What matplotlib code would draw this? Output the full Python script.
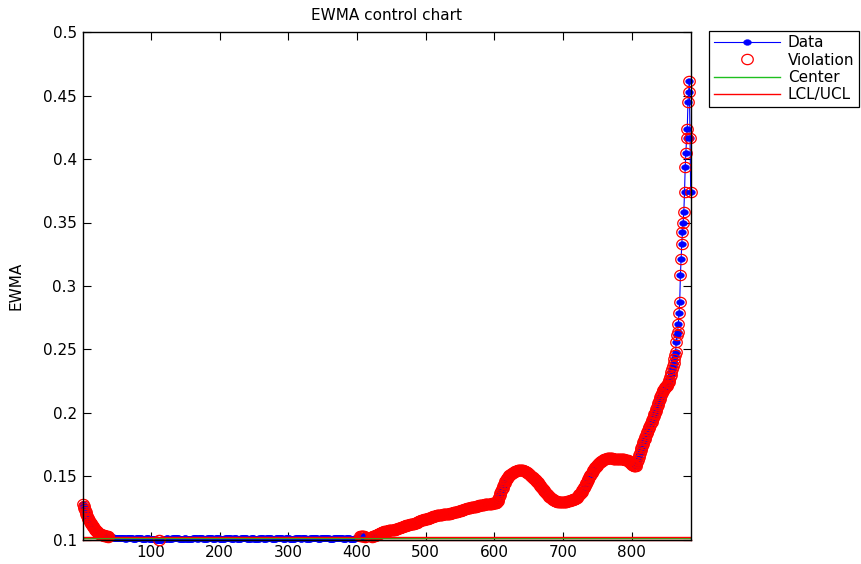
import numpy as np
import matplotlib
matplotlib.use("Agg")
import matplotlib.pyplot as plt
from matplotlib.ticker import FuncFormatter
from matplotlib.lines import Line2D
from matplotlib.path import Path

plt.rcParams['font.family'] = ['DejaVu Sans']

# ---------------- data ----------------
ewma_start = [
    0.1280, 0.1262, 0.1245, 0.1230, 0.1214, 0.1200, 0.1186, 0.1173, 0.1161, 0.1150,
    0.1139, 0.1129, 0.1120, 0.1111, 0.1103, 0.1095, 0.1088, 0.1081, 0.1075, 0.1069,
    0.1064, 0.1059, 0.1055, 0.1051, 0.1047, 0.1044, 0.1041, 0.1038, 0.1036, 0.1034,
    0.1032, 0.1030, 0.1029, 0.1027, 0.1026, 0.1025, 0.1024, 0.1023, 0.1022, 0.1020,
]
ewma_flat = [
    0.1019, 0.1018, 0.1017, 0.1016, 0.1015, 0.1014, 0.1013, 0.1012, 0.1011, 0.1010,
    0.1009, 0.1009, 0.1008, 0.1008, 0.1009, 0.1010, 0.1011, 0.1011, 0.1010, 0.1009,
    0.1008, 0.1007, 0.1007, 0.1008, 0.1009, 0.1010, 0.1012, 0.1013, 0.1012, 0.1011,
    0.1010, 0.1009, 0.1008, 0.1007, 0.1006, 0.1006, 0.1007, 0.1008, 0.1009, 0.1010,
    0.1011, 0.1012, 0.1011, 0.1010, 0.1009, 0.1008, 0.1007, 0.1006, 0.1005, 0.1005,
    0.1006, 0.1007, 0.1008, 0.1009, 0.1009, 0.1008, 0.1007, 0.1006, 0.1005, 0.1004,
    0.1004, 0.1003, 0.1003, 0.1002, 0.1002, 0.1001, 0.1001, 0.1000, 0.1000, 0.0999,
    0.0998, 0.0996, 0.0998, 0.0999, 0.1000, 0.1001, 0.1002, 0.1003, 0.1004, 0.1005,
    0.1006, 0.1007, 0.1008, 0.1008, 0.1007, 0.1006, 0.1005, 0.1005, 0.1006, 0.1007,
    0.1008, 0.1009, 0.1010, 0.1011, 0.1012, 0.1012, 0.1011, 0.1010, 0.1009, 0.1008,
    0.1007, 0.1006, 0.1005, 0.1004, 0.1004, 0.1005, 0.1006, 0.1007, 0.1008, 0.1008,
    0.1007, 0.1006, 0.1005, 0.1004, 0.1003, 0.1003, 0.1004, 0.1005, 0.1006, 0.1007,
    0.1008, 0.1009, 0.1010, 0.1010, 0.1009, 0.1008, 0.1007, 0.1007, 0.1008, 0.1009,
    0.1010, 0.1011, 0.1010, 0.1009, 0.1008, 0.1007, 0.1006, 0.1005, 0.1005, 0.1006,
    0.1007, 0.1008, 0.1009, 0.1010, 0.1011, 0.1011, 0.1010, 0.1009, 0.1008, 0.1007,
    0.1006, 0.1006, 0.1007, 0.1008, 0.1009, 0.1010, 0.1010, 0.1009, 0.1008, 0.1007,
    0.1006, 0.1005, 0.1004, 0.1004, 0.1005, 0.1006, 0.1007, 0.1008, 0.1009, 0.1010,
    0.1011, 0.1012, 0.1011, 0.1010, 0.1009, 0.1008, 0.1007, 0.1006, 0.1006, 0.1007,
    0.1008, 0.1009, 0.1009, 0.1008, 0.1007, 0.1006, 0.1005, 0.1005, 0.1006, 0.1007,
    0.1008, 0.1009, 0.1010, 0.1011, 0.1012, 0.1011, 0.1010, 0.1009, 0.1008, 0.1007,
    0.1006, 0.1005, 0.1005, 0.1006, 0.1007, 0.1008, 0.1009, 0.1009, 0.1008, 0.1007,
    0.1006, 0.1005, 0.1004, 0.1004, 0.1005, 0.1006, 0.1007, 0.1008, 0.1009, 0.1010,
    0.1010, 0.1009, 0.1008, 0.1007, 0.1006, 0.1006, 0.1007, 0.1008, 0.1009, 0.1010,
    0.1011, 0.1011, 0.1010, 0.1009, 0.1008, 0.1007, 0.1006, 0.1005, 0.1005, 0.1006,
    0.1007, 0.1008, 0.1009, 0.1010, 0.1011, 0.1012, 0.1012, 0.1011, 0.1010, 0.1009,
    0.1008, 0.1007, 0.1006, 0.1006, 0.1007, 0.1008, 0.1009, 0.1010, 0.1010, 0.1009,
    0.1008, 0.1007, 0.1006, 0.1005, 0.1004, 0.1004, 0.1005, 0.1006, 0.1007, 0.1008,
    0.1009, 0.1010, 0.1011, 0.1011, 0.1010, 0.1009, 0.1008, 0.1007, 0.1007, 0.1008,
    0.1009, 0.1010, 0.1010, 0.1009, 0.1008, 0.1007, 0.1006, 0.1005, 0.1005, 0.1006,
    0.1007, 0.1008, 0.1009, 0.1010, 0.1011, 0.1012, 0.1013, 0.1012, 0.1011, 0.1010,
    0.1009, 0.1008, 0.1007, 0.1006, 0.1006, 0.1007, 0.1008, 0.1009, 0.1010, 0.1011,
    0.1012, 0.1013, 0.1014, 0.1013, 0.1012, 0.1011, 0.1010, 0.1009, 0.1008, 0.1007,
    0.1006, 0.1005, 0.1005, 0.1006, 0.1007, 0.1008, 0.1009, 0.1010, 0.1011, 0.1012,
    0.1013, 0.1014, 0.1014, 0.1013, 0.1012, 0.1011, 0.1010, 0.1009, 0.1008, 0.1007,
    0.1006, 0.1006, 0.1007, 0.1008, 0.1009, 0.1010, 0.1010, 0.1009, 0.1008, 0.1007,
    0.1006, 0.1005, 0.1004, 0.1004, 0.1005, 0.1006, 0.1008, 0.1010, 0.1012, 0.1014,
    0.1016, 0.1018, 0.1020, 0.1022, 0.1024, 0.1025, 0.1026, 0.1026, 0.1025, 0.1024,
    0.1023, 0.1022, 0.1021, 0.1020, 0.1019, 0.1018, 0.1018, 0.1019, 0.1020, 0.1021,
    0.1022, 0.1023, 0.1024, 0.1026, 0.1028, 0.1030, 0.1032, 0.1035, 0.1038, 0.1041,
]
ewma_rise = [
    0.1044, 0.1047, 0.1050, 0.1053, 0.1055, 0.1057, 0.1059, 0.1061, 0.1063, 0.1065,
    0.1066, 0.1067, 0.1068, 0.1069, 0.1070, 0.1071, 0.1072, 0.1073, 0.1073, 0.1074,
    0.1074, 0.1075, 0.1076, 0.1077, 0.1078, 0.1080, 0.1082, 0.1084, 0.1086, 0.1088,
    0.1090, 0.1092, 0.1094, 0.1096, 0.1098, 0.1100, 0.1102, 0.1104, 0.1106, 0.1108,
    0.1110, 0.1112, 0.1114, 0.1116, 0.1117, 0.1118, 0.1119, 0.1120, 0.1121, 0.1122,
    0.1123, 0.1124, 0.1125, 0.1127, 0.1129, 0.1131, 0.1134, 0.1137, 0.1140, 0.1143,
    0.1146, 0.1149, 0.1151, 0.1153, 0.1155, 0.1156, 0.1157, 0.1158, 0.1159, 0.1160,
    0.1161, 0.1162, 0.1164, 0.1166, 0.1168, 0.1170, 0.1172, 0.1175, 0.1178, 0.1180,
    0.1182, 0.1184, 0.1186, 0.1188, 0.1189, 0.1190, 0.1191, 0.1192, 0.1193, 0.1194,
    0.1195, 0.1196, 0.1197, 0.1197, 0.1198, 0.1198, 0.1199, 0.1199, 0.1200, 0.1200,
    0.1201, 0.1202, 0.1203, 0.1204, 0.1205, 0.1206, 0.1207, 0.1209, 0.1210, 0.1212,
    0.1213, 0.1215, 0.1216, 0.1218, 0.1219, 0.1220, 0.1221, 0.1222, 0.1223, 0.1225,
    0.1227, 0.1229, 0.1231, 0.1233, 0.1235, 0.1237, 0.1239, 0.1241, 0.1243, 0.1245,
    0.1247, 0.1249, 0.1250, 0.1251, 0.1252, 0.1253, 0.1254, 0.1254, 0.1255, 0.1256,
    0.1257, 0.1258, 0.1259, 0.1261, 0.1263, 0.1265, 0.1267, 0.1269, 0.1270, 0.1271,
    0.1272, 0.1273, 0.1274, 0.1275, 0.1276, 0.1277, 0.1278, 0.1279, 0.1280, 0.1280,
    0.1281, 0.1281, 0.1282, 0.1282, 0.1283, 0.1283, 0.1284, 0.1284, 0.1285, 0.1285,
]
ewma_hump = [
    0.1286, 0.1287, 0.1289, 0.1293, 0.1302, 0.1316, 0.1332, 0.1348, 0.1364, 0.1380,
    0.1395, 0.1410, 0.1424, 0.1437, 0.1449, 0.1460, 0.1470, 0.1479, 0.1487, 0.1494,
    0.1500, 0.1506, 0.1511, 0.1516, 0.1520, 0.1524, 0.1528, 0.1531, 0.1534, 0.1537,
    0.1539, 0.1541, 0.1543, 0.1545, 0.1546, 0.1547, 0.1548, 0.1548, 0.1548, 0.1547,
    0.1546, 0.1545, 0.1543, 0.1541, 0.1538, 0.1535, 0.1531, 0.1527, 0.1523, 0.1519,
    0.1514, 0.1509, 0.1504, 0.1499, 0.1494, 0.1489, 0.1484, 0.1479, 0.1474, 0.1469,
    0.1463, 0.1457, 0.1451, 0.1445, 0.1438, 0.1431, 0.1424, 0.1417, 0.1410, 0.1403,
    0.1396, 0.1389, 0.1382, 0.1375, 0.1368, 0.1362, 0.1356, 0.1350, 0.1344, 0.1339,
    0.1334, 0.1329, 0.1325, 0.1321, 0.1317, 0.1313, 0.1310, 0.1307, 0.1304, 0.1302,
    0.1300, 0.1298, 0.1296, 0.1295, 0.1294, 0.1293, 0.1293, 0.1293, 0.1293, 0.1294,
    0.1295, 0.1296, 0.1297, 0.1298, 0.1299, 0.1300, 0.1301, 0.1303, 0.1305, 0.1307,
    0.1309, 0.1311, 0.1313, 0.1315, 0.1317, 0.1319, 0.1321, 0.1323, 0.1326, 0.1330,
    0.1335, 0.1341, 0.1348, 0.1355, 0.1362, 0.1370, 0.1378, 0.1387, 0.1396, 0.1405,
    0.1415, 0.1425, 0.1435, 0.1446, 0.1457, 0.1468, 0.1479, 0.1490, 0.1500, 0.1510,
    0.1519, 0.1528, 0.1537, 0.1545, 0.1553, 0.1561, 0.1568, 0.1575, 0.1582, 0.1588,
    0.1594, 0.1600, 0.1605, 0.1610, 0.1615, 0.1619, 0.1623, 0.1626, 0.1629, 0.1632,
    0.1634, 0.1636, 0.1638, 0.1639, 0.1640, 0.1641, 0.1642, 0.1642, 0.1642, 0.1641,
    0.1640, 0.1639, 0.1637, 0.1636, 0.1635, 0.1634, 0.1633, 0.1633, 0.1634, 0.1635,
    0.1636, 0.1637, 0.1637, 0.1636, 0.1635, 0.1634, 0.1633, 0.1632, 0.1631, 0.1630,
    0.1629, 0.1628, 0.1626, 0.1624, 0.1621, 0.1617, 0.1612, 0.1606, 0.1600, 0.1594,
]
ewma_tail = [
    0.1589, 0.1584, 0.1580, 0.1577, 0.1576, 0.1581, 0.1592, 0.1608, 0.1627, 0.1647,
    0.1667, 0.1686, 0.1704, 0.1721, 0.1737, 0.1752, 0.1767, 0.1781, 0.1795, 0.1809,
    0.1823, 0.1837, 0.1850, 0.1863, 0.1876, 0.1889, 0.1902, 0.1916, 0.1930, 0.1944,
    0.1958, 0.1972, 0.1986, 0.2000, 0.2015, 0.2030, 0.2045, 0.2060, 0.2076, 0.2092,
    0.2108, 0.2124, 0.2140, 0.2155, 0.2168, 0.2180, 0.2190, 0.2198, 0.2203, 0.2208,
    0.2214, 0.2222, 0.2232, 0.2245, 0.2260, 0.2278, 0.2298, 0.2320, 0.2345, 0.2370,
    0.2395, 0.2420, 0.2454, 0.2480, 0.2559, 0.2612, 0.2638, 0.2698, 0.2788, 0.2874,
    0.3085, 0.3211, 0.3327, 0.3427, 0.3500, 0.3585, 0.3738, 0.3940, 0.4050, 0.4166,
    0.4240, 0.4448, 0.4529, 0.4618, 0.4166, 0.3738,
]

center = 0.1010
ucl = 0.1022
lcl = 0.0998

x_ticks = [100, 200, 300, 400, 500, 600, 700, 800]
y_ticks = [0.1, 0.15, 0.2, 0.25, 0.3, 0.35, 0.4, 0.45, 0.5]

title_text = "EWMA control chart"
ylabel_text = "EWMA"
legend_labels = ["Data", "Violation", "Center", "LCL/UCL"]

# ---------------- build ----------------
ewma = np.array(ewma_start + ewma_flat + ewma_rise + ewma_hump + ewma_tail)
idx = np.arange(1, len(ewma) + 1)
viol = (ewma > ucl) | (ewma < lcl)

# the reference is horizontally stretched: markers are slightly wide ellipses
t = np.linspace(0, 2 * np.pi, 73)
dot_shape = Path(np.column_stack([1.35 * np.cos(t), np.sin(t)]), closed=True)
ring_shape = Path(np.column_stack([1.12 * np.cos(t), np.sin(t)]), closed=True)

W, H = 862, 564
fig = plt.figure(figsize=(W / 100, H / 100), dpi=100)
ax_l, ax_r, ax_t, ax_b = 83, 690.7, 32.3, 539.5
ax = fig.add_axes([ax_l / W, 1 - ax_b / H, (ax_r - ax_l) / W, (ax_b - ax_t) / H])

blue = '#0000ff'
red = '#ff0000'
green = '#1fbf1f'

data_style = dict(color=blue, lw=0.8, marker=dot_shape, ms=5.6,
                  mfc=blue, mec=blue, mew=0.3)
viol_style = dict(ls='none', marker=ring_shape, ms=8.3, mfc='none',
                  mec=red, mew=0.9)

ax.plot(idx, ewma, '-', clip_on=False, zorder=3, **data_style)
ax.plot(idx[viol], ewma[viol], clip_on=False, zorder=4, **viol_style)
ax.axhline(center, color=green, lw=1.0, zorder=5)
ax.axhline(ucl, color=red, lw=1.0, zorder=5)
ax.axhline(lcl, color=red, lw=1.0, zorder=2, clip_on=False)

ax.set_xlim(idx[0], idx[-1])
ax.set_ylim(y_ticks[0], y_ticks[-1])
ax.set_xticks(x_ticks)
ax.set_yticks(y_ticks)
ax.yaxis.set_major_formatter(FuncFormatter(lambda v, p: '%g' % round(v, 4)))
ax.tick_params(direction='in', length=5.5, width=0.8, top=True, right=True,
               labelsize=11, colors='black')
ax.tick_params(axis='x', pad=4)
ax.tick_params(axis='y', pad=4.5)
for s in ax.spines.values():
    s.set_linewidth(1.0)
    s.set_color('black')
    s.set_zorder(6)

ax.set_title(title_text, fontsize=11, pad=8.5)
ax.set_ylabel(ylabel_text, fontsize=11)
ax.yaxis.set_label_coords((23 - ax_l) / (ax_r - ax_l), 0.5)

handles = [
    Line2D([], [], **data_style),
    Line2D([], [], color=red, **viol_style),
    Line2D([], [], color=green, lw=1.0),
    Line2D([], [], color=red, lw=1.0),
]
leg = fig.legend(handles, legend_labels, loc='upper left',
                 bbox_to_anchor=(709 / W, 1 - 30.7 / H), fontsize=11,
                 frameon=True, fancybox=False, shadow=False, framealpha=1,
                 edgecolor='black', borderpad=0.3, labelspacing=0.15,
                 handlelength=4.35, handletextpad=0.5, borderaxespad=0,
                 numpoints=1)
leg.get_frame().set_linewidth(0.9)

fig.savefig('out.png', dpi=100)
